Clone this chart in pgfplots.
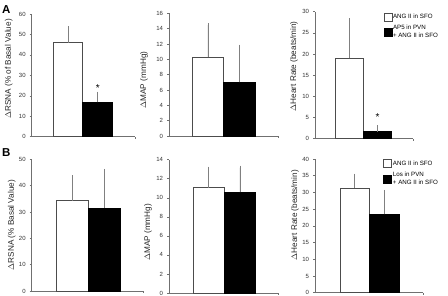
\documentclass[border=0pt]{standalone}
\usepackage{fontspec}
\setmainfont{Liberation Sans}
\usepackage{pgfplots}
\pgfplotsset{compat=1.18}
\definecolor{axgray}{HTML}{707070}
\definecolor{ebgray}{HTML}{808080}
\pgfplotsset{
  panel/.style={
    scale only axis, axis x line=bottom, axis y line=left,
    axis line style={-, axgray, line width=0.5pt},
    enlargelimits=false, ymin=0, xmin=0,
    tick align=outside, major tick length=2pt,
    tick style={axgray, line width=0.5pt},
    xticklabels={},
    ticklabel style={font=\fontsize{6}{7}\selectfont, text=black!80},
    yticklabel style={xshift=-0.5pt},
    /pgf/number format/assume math mode=true,
    clip=false, ybar, bar shift=0pt,
  },
  ylab/.style 2 args={every axis y label/.style={at={([xshift=#1]axis description cs:0,#2)}, rotate=90, anchor=center, font=\fontsize{8.2}{9}\selectfont, text=black!85}},
  ebars/.style={
    error bars/y dir=plus, error bars/y explicit,
    error bars/error bar style={ebgray, line width=0.6pt},
    error bars/error mark options={ebgray, mark size=2pt, line width=0.6pt}},
  wbar/.style={fill=white, draw=black!70, line width=0.5pt, ebars},
  kbar/.style={fill=black, draw=black, line width=0.5pt, ebars},
  leg/.style={
    legend style={draw=none, fill=none, inner sep=0pt, anchor=north west,
      font=\fontsize{6.2}{8.2}\selectfont, cells={align=left, anchor=west},
      row sep=3pt, nodes={inner sep=1pt}},
    legend image code/.code={\draw[##1, line width=0.5pt] (0pt,-4pt) rectangle (8pt,4pt);},
  },
}
\begin{document}
\begin{tikzpicture}
\path[use as bounding box] (0pt,0pt) rectangle (448pt,296pt);
\node[anchor=base west, font=\fontsize{11.5}{12}\selectfont\bfseries, inner sep=0pt] at (2pt,282.7pt) {A};
\node[anchor=base west, font=\fontsize{11.5}{12}\selectfont\bfseries, inner sep=0pt] at (2pt,139.3pt) {B};

% A1
\begin{axis}[panel, at={(31.7pt,159.3pt)}, anchor=south west,
  width=103.3pt, height=122.7pt, xmax=103.3, ymax=60, ytick={0,10,...,60}, xtick={103.3},
  ylabel={$\Delta$RSNA (\% of Basal Value)}, ylab={-23pt}{0.552}]
\addplot[bar width=29.4, wbar] coordinates {(36.3,46.0) +- (0,7.0)};
\addplot[bar width=30, kbar] coordinates {(66.0,16.8) +- (0,4.2)};
\node[anchor=base, font=\fontsize{10}{10}\selectfont, inner sep=0pt] at (axis cs:66,22.0) {*};
\end{axis}

% A2
\begin{axis}[panel, at={(169pt,160pt)}, anchor=south west,
  width=109.3pt, height=122.7pt, xmax=109.3, ymax=16, ytick={0,2,...,16}, xtick={109.3},
  ylabel={$\Delta$MAP (mmHg)}, ylab={-25pt}{0.456}]
\addplot[bar width=31, wbar] coordinates {(38.8,10.26) +- (0,4.2)};
\addplot[bar width=31.7, kbar] coordinates {(70.15,7.0) +- (0,4.65)};
\end{axis}

% A3
\begin{axis}[panel, leg, at={(315pt,157.3pt)}, anchor=south west,
  width=98.3pt, height=127pt, xmax=98.3, ymax=30, ytick={0,5,...,30}, xtick={98.3},
  ylabel={$\Delta$Heart Rate (beats/min)}, ylab={-21pt}{0.57},
  legend style={at={(0.695,0.995)}}]
\addplot[bar width=27.6, wbar] coordinates {(34.5,19.0) +- (0,9.0)};
\addlegendentry{ANG II in SFO}
\addplot[bar width=28.4, kbar] coordinates {(62.5,1.65) +- (0,1.05)};
\addlegendentry{AP5 in PVN\\+ ANG II in SFO}
\node[anchor=base, font=\fontsize{10}{10}\selectfont, inner sep=0pt] at (axis cs:62.5,4.4) {*};
\end{axis}

% B1
\begin{axis}[panel, at={(31.7pt,5pt)}, anchor=south west,
  width=111.6pt, height=131.7pt, xmax=111.6, ymax=50, ytick={0,10,...,50}, xtick={111.6},
  ylabel={$\Delta$RSNA (\% Basal Value)}, ylab={-20pt}{0.5}]
\addplot[bar width=31.6, wbar] coordinates {(40.8,34.3) +- (0,8.8)};
\addplot[bar width=31.7, kbar] coordinates {(72.45,31.6) +- (0,14.0)};
\end{axis}

% B2
\begin{axis}[panel, at={(169pt,3pt)}, anchor=south west,
  width=109.3pt, height=133.3pt, xmax=109.3, ymax=14, ytick={0,2,...,14}, xtick={109.3},
  ylabel={$\Delta$MAP (mmHg)}, ylab={-21pt}{0.454}]
\addplot[bar width=30.7, wbar] coordinates {(39.65,11.06) +- (0,2.0)};
\addplot[bar width=31.7, kbar] coordinates {(70.85,10.57) +- (0,2.6)};
\end{axis}

% B3
\begin{axis}[panel, leg, at={(315pt,3.3pt)}, anchor=south west,
  width=108.3pt, height=133.7pt, xmax=108.3, ymax=40, ytick={0,5,...,40}, xtick={108.3},
  ylabel={$\Delta$Heart Rate (beats/min)}, ylab={-20pt}{0.58},
  legend style={at={(0.63,0.998)}}]
\addplot[bar width=29.3, wbar] coordinates {(39.65,31.3) +- (0,3.7)};
\addlegendentry{ANG II in SFO}
\addplot[bar width=29.7, kbar] coordinates {(69.15,23.4) +- (0,6.8)};
\addlegendentry{Los in PVN\\+ ANG II in SFO}
\end{axis}
\end{tikzpicture}
\end{document}
